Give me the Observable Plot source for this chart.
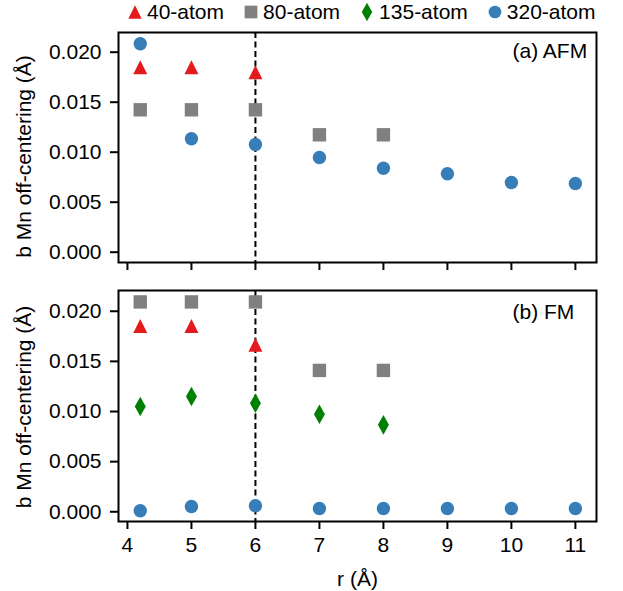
<!DOCTYPE html>
<html>
<head>
<meta charset="utf-8">
<script src="https://cdn.jsdelivr.net/npm/d3@7"></script>
<script src="https://cdn.jsdelivr.net/npm/@observablehq/plot@0.6"></script>
<style>
  html, body { margin: 0; padding: 0; background: #fff; }
  #chart { position: relative; width: 623px; height: 591px; font-family: "Liberation Sans", Arial, sans-serif; }
  #chart svg { display: block; }
  #legend { position: absolute; top: -1px; left: 128px; display: flex; align-items: center; font-size: 21px; line-height: 26px; color: #000; }
  #legend .item { display: flex; align-items: center; margin-right: 20px; }
  #legend .item svg { margin-right: 5px; }
</style>
</head>
<body>
<div id="chart"><div id="legend"></div></div>
<script>
// ---------- data ----------
const seriesNames = ["40-atom", "80-atom", "135-atom", "320-atom"];
const seriesColors = ["#e41a1c", "#808080", "#008000", "#377eb8"];
const xTicks = [4, 5, 6, 7, 8, 9, 10, 11];
const yTicks = [0, 0.005, 0.010, 0.015, 0.020];
const dashedR = [6];
const panelLabels = ["(a) AFM", "(b) FM"];
const xLabel = "r (Å)";
const yLabelItalic = "b";
const yLabelRest = " Mn off-centering (Å)";

// r values (Å)
const r40 = [4.2, 5, 6];
const r80 = [4.2, 5, 6, 7, 8];
const r135 = [4.2, 5, 6, 7, 8];
const r320 = [4.2, 5, 6, 7, 8, 9, 10, 11];

// (a) AFM
const afm40 = [0.0185, 0.0185, 0.0180];
const afm80 = [0.01424, 0.01424, 0.01424, 0.01174, 0.01174];
const afm320 = [0.02084, 0.01134, 0.01077, 0.00947, 0.00840, 0.00784, 0.00697, 0.00687];

// (b) FM
const fm40 = [0.01853, 0.01853, 0.01667];
const fm80 = [0.02093, 0.02093, 0.02093, 0.0141, 0.0141];
const fm135 = [0.0105, 0.0115, 0.01083, 0.00973, 0.00867];
const fm320 = [0.0001, 0.00053, 0.0006, 0.00033, 0.00033, 0.00033, 0.00033, 0.00033];

// ---------- build tables ----------
function rows(series, rs, vs) { return rs.map((r, i) => ({r, v: vs[i], series})); }
const afmData = [
  ...rows("80-atom", r80, afm80),
  ...rows("40-atom", r40, afm40),
  ...rows("320-atom", r320, afm320)
];
const fmData = [
  ...rows("320-atom", r320, fm320),
  ...rows("135-atom", r135, fm135),
  ...rows("80-atom", r80, fm80),
  ...rows("40-atom", r40, fm40)
];

// ---------- marker shapes (fixed pixel sizes, matplotlib-like) ----------
function makeSymbols(scale) {
  const tri = {draw(c) { const w = 7 * scale, h = 7 * scale; c.moveTo(0, -h); c.lineTo(w, h); c.lineTo(-w, h); c.closePath(); }};
  const sq = {draw(c) { const s = 6.7 * scale; c.moveTo(-s, -s); c.lineTo(s, -s); c.lineTo(s, s); c.lineTo(-s, s); c.closePath(); }};
  const dia = {draw(c) { const w = 5.5 * scale, h = 9.8 * scale; c.moveTo(0, -h); c.lineTo(w, 0); c.lineTo(0, h); c.lineTo(-w, 0); c.closePath(); }};
  const circ = {draw(c) { const r = 6.7 * scale; c.moveTo(r, 0); c.arc(0, 0, r, 0, 2 * Math.PI); c.closePath(); }};
  return [tri, sq, dia, circ];
}
const plotSymbols = makeSymbols(1);
const legendSymbols = makeSymbols(0.95);

const W = 623;
const FONT = "Liberation Sans, Arial, sans-serif";

function panel({data, yDomain, height, marginTop, marginBottom, label, labelDy, ylabDy, bottom}) {
  const marks = [
    Plot.ruleX(dashedR, {stroke: "black", strokeWidth: 2, strokeDasharray: "6,3.5"}),
    Plot.dot(data, {x: "r", y: "v", symbol: "series", fill: "series"}),
    Plot.frame({stroke: "black", strokeWidth: 2}),
    Plot.axisY({ticks: yTicks, tickFormat: d3.format(".3f"), tickSize: 8, tickPadding: 9, strokeWidth: 2, label: null}),
    bottom
      ? Plot.axisX({ticks: xTicks, tickFormat: d3.format("d"), tickSize: 8, tickPadding: 8, strokeWidth: 2,
          label: xLabel, labelAnchor: "center", labelArrow: "none", labelOffset: 64})
      : Plot.axisX({ticks: xTicks, tickFormat: () => "", tickSize: 8, strokeWidth: 2, label: null}),
    Plot.text([label], {text: d => d, frameAnchor: "top-right", textAnchor: "start", lineAnchor: "top", dx: -84, dy: labelDy, fontSize: 21}),
    Plot.text([yLabelItalic + yLabelRest], {text: d => d, frameAnchor: "left", textAnchor: "middle", rotate: -90, lineAnchor: "top", dx: -102, dy: ylabDy, fontSize: 21, ariaLabel: "y-label"})
  ];
  const svg = Plot.plot({
    width: W, height,
    marginLeft: 118, marginRight: 27, marginTop, marginBottom,
    style: {fontSize: "21px", fontFamily: FONT, color: "black", background: "white"},
    x: {domain: [3.86, 11.33]},
    y: {domain: yDomain},
    color: {domain: seriesNames, range: seriesColors},
    symbol: {domain: seriesNames, range: plotSymbols},
    marks
  });
  d3.select(svg).selectAll('g[aria-label="y-label"] text').each(function () {
    const t = d3.select(this);
    t.text(null);
    t.append("tspan").attr("font-style", "italic").text(yLabelItalic);
    t.append("tspan").text(yLabelRest);
  });
  return svg;
}

const chart = document.getElementById("chart");
chart.appendChild(panel({data: afmData, yDomain: [-0.00103, 0.02197], height: 280, marginTop: 32, marginBottom: 18, label: panelLabels[0], labelDy: 11, ylabDy: 9, bottom: false}));
chart.appendChild(panel({data: fmData, yDomain: [-0.00097, 0.02207], height: 311, marginTop: 10, marginBottom: 70, label: panelLabels[1], labelDy: 14, ylabDy: 1, bottom: true}));

// ---------- legend ----------
const legend = d3.select("#legend");
seriesNames.forEach((name, i) => {
  const item = legend.append("div").attr("class", "item");
  const s = item.append("svg").attr("width", 14).attr("height", 20).attr("viewBox", "-7 -10 14 20");
  const p = d3.path();
  legendSymbols[i].draw(p);
  s.append("path").attr("d", p.toString()).attr("fill", seriesColors[i]);
  item.append("span").text(name);
});
</script>
</body>
</html>
